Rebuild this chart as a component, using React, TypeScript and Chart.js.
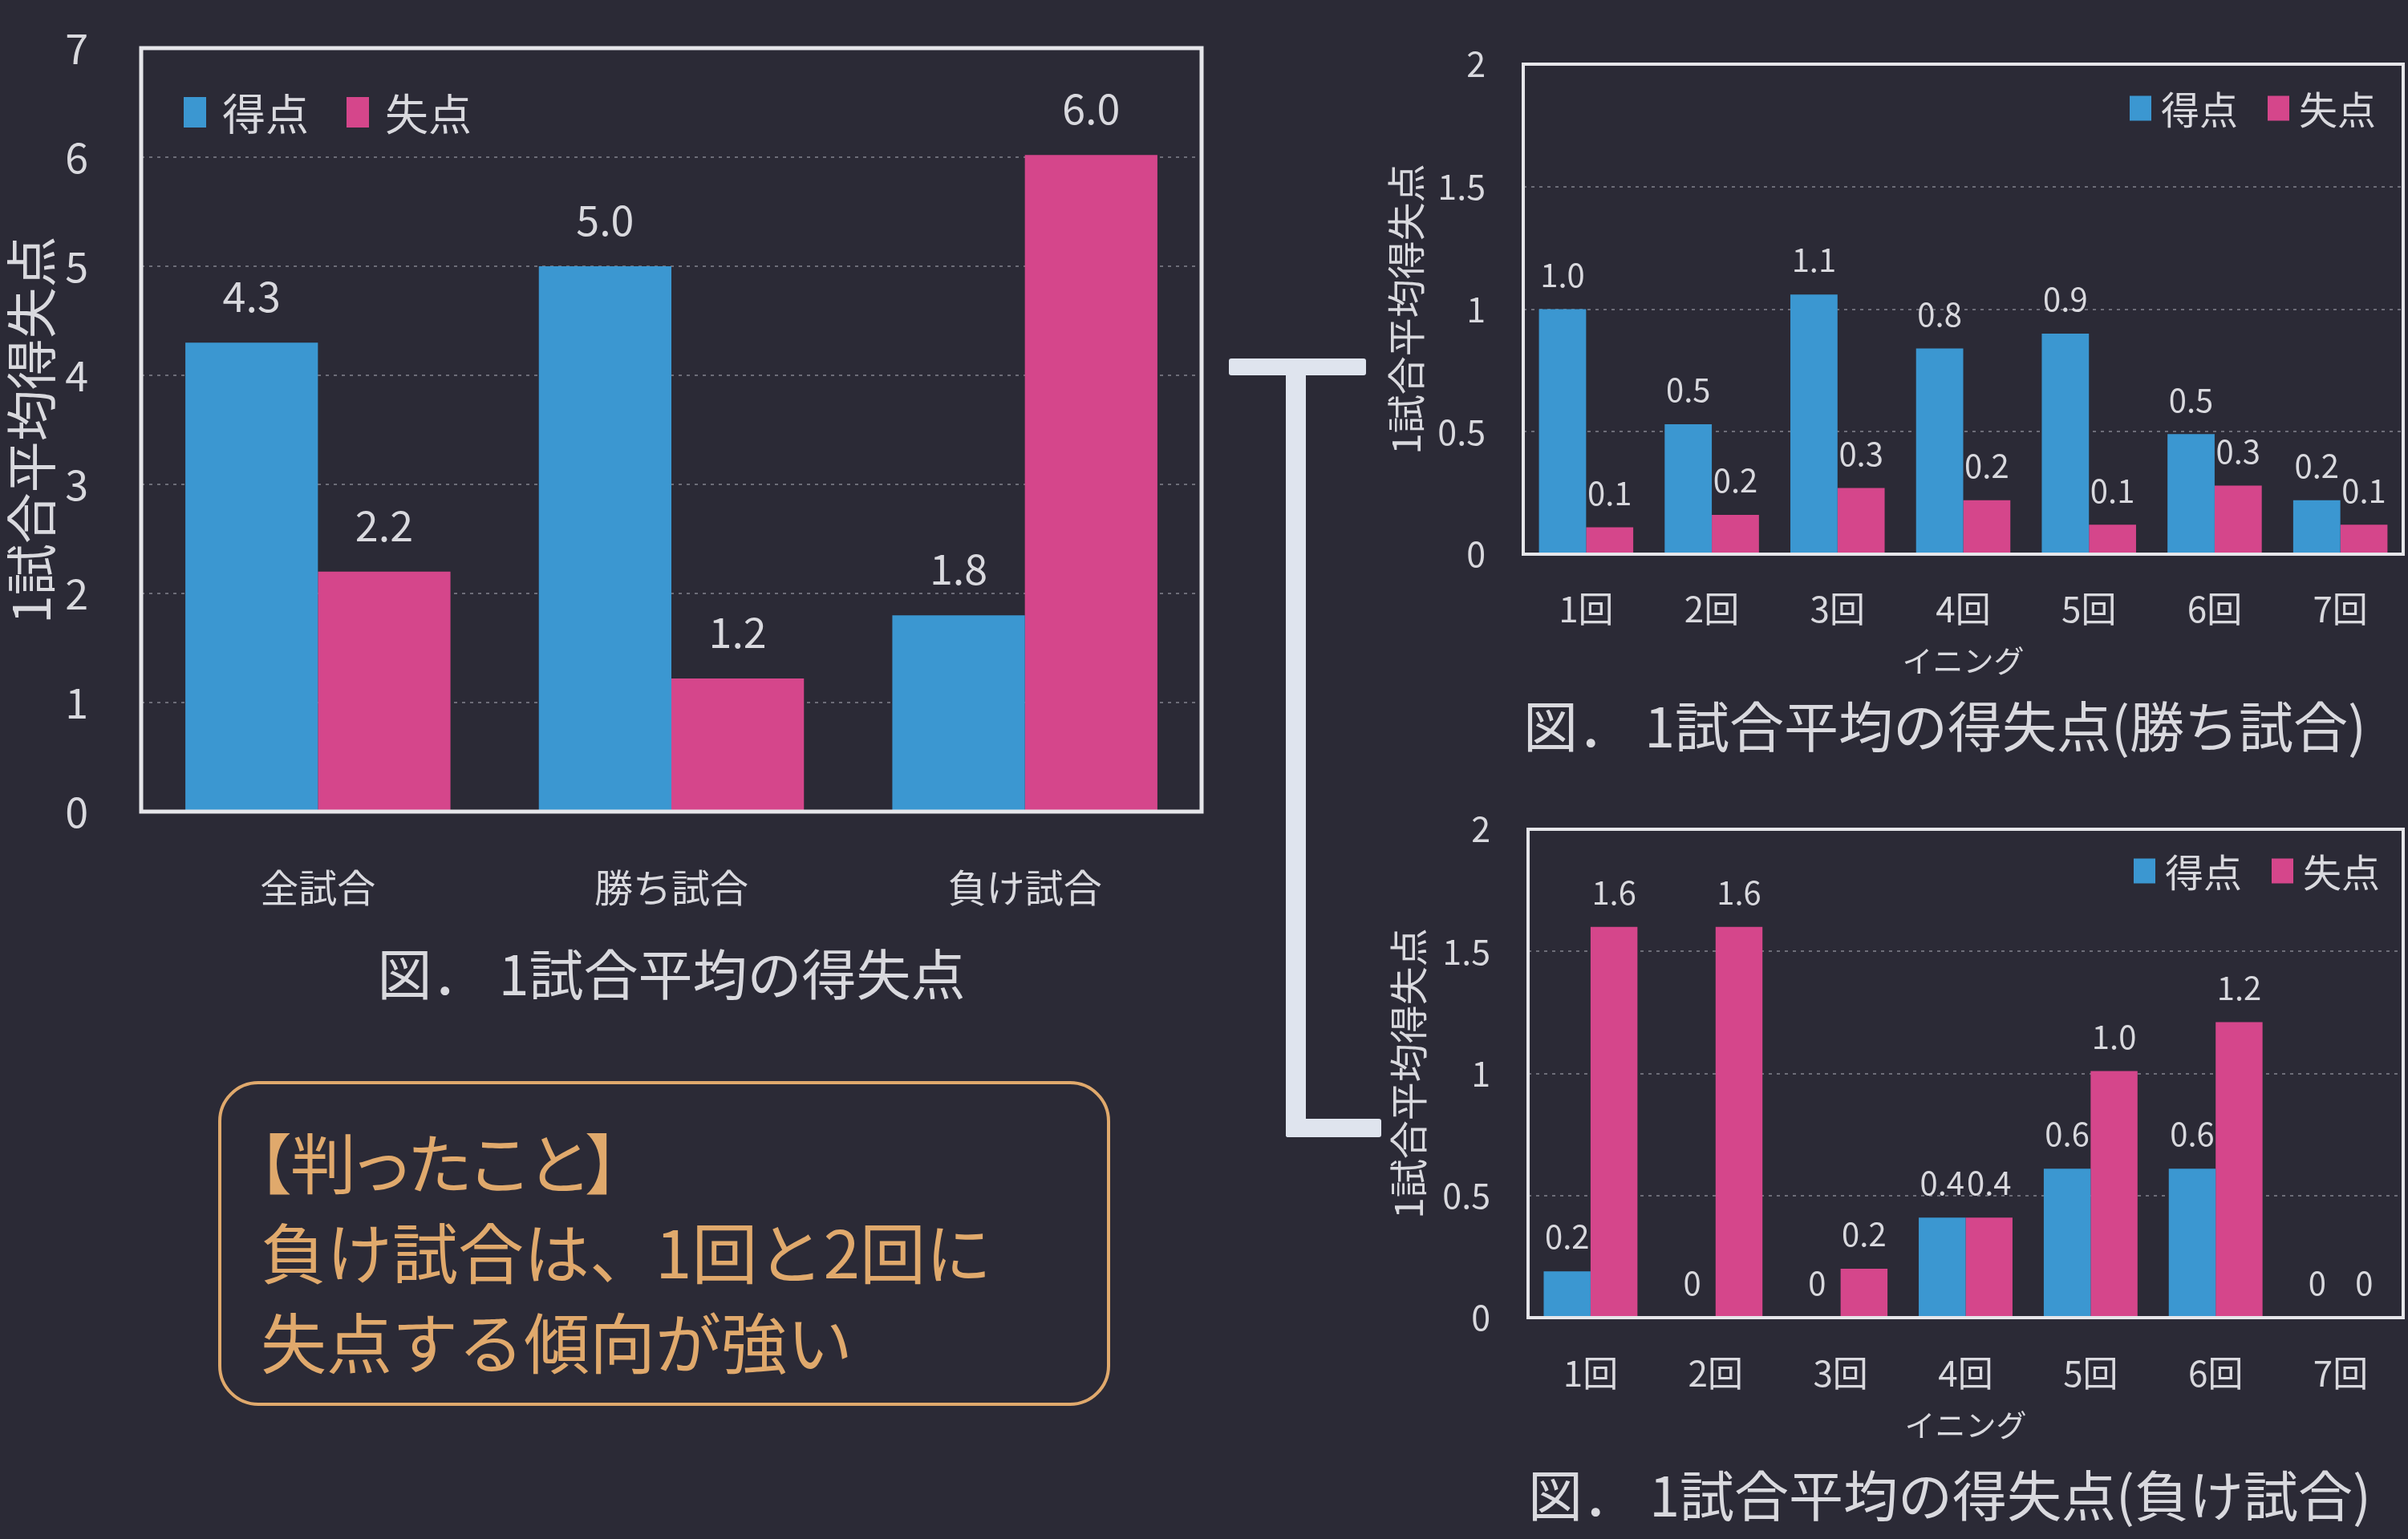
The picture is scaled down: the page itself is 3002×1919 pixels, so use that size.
import React, { useEffect, useRef } from 'react';
import { Chart, registerables } from 'chart.js';

Chart.register(...registerables);

// ---------------- data ----------------
const seriesNames = ['得点', '失点'];

const mainCategories = ['全試合', '勝ち試合', '負け試合'];
const mainScored = [4.3, 5.0, 1.8];
const mainAllowed = [2.2, 1.22, 6.02];
const mainYMax = 7;
const mainYStep = 1;

const innings = ['1回', '2回', '3回', '4回', '5回', '6回', '7回'];
const winScored = [1.0, 0.53, 1.06, 0.84, 0.9, 0.49, 0.22];
const winAllowed = [0.11, 0.16, 0.27, 0.22, 0.12, 0.28, 0.12];
const loseScored = [0.19, 0, 0, 0.41, 0.61, 0.61, 0];
const loseAllowed = [1.6, 1.6, 0.2, 0.41, 1.01, 1.21, 0];
const inningYMax = 2;
const inningYStep = 0.5;

const yAxisTitle = '1試合平均得失点';
const xAxisTitle = 'イニング';
const mainCaption = '図． 1試合平均の得失点';
const winCaption = '図． 1試合平均の得失点(勝ち試合)';
const loseCaption = '図． 1試合平均の得失点(負け試合)';

const noteLines = ['【判ったこと】', '負け試合は、1回と2回に', '失点する傾向が強い'];

// ---------------- styles ----------------
const FONT = "'Noto Sans CJK JP', 'Noto Sans', sans-serif";
const BG = '#2b2a36';
const BLUE = '#3b97d1';
const PINK = '#d5468b';
const TEXT = '#d9d9de';
const FRAME = '#e6e6ea';
const GRID = 'rgba(175,175,185,0.5)';
const NOTE = '#e0a96c';
const BRACKET = '#dfe4ee';

Chart.defaults.font.family = FONT;

const fmt = (v: number) => (v === 0 ? '0' : v.toFixed(1));

type Spec = {
  left: number; top: number; w: number; h: number;
  pad: { left: number; top: number; right: number; bottom: number };
  yAxisW: number; yTickFont: number; yTickPad: number; yTitleFont: number; yTitlePadTop: number;
  xAxisH: number; xTickFont: number; xTickPad: number; xTitle: string | null; xTitleFont: number;
  caption: string; captionFont: number; captionPadTop: number; captionAlign: 'center' | 'start'; captionFull: boolean;
  valueFont: number; valueOffset: number; frame: number;
  legend: { anchor: 'left' | 'right'; dx: number; dy: number; bw: number; bh: number; gap: number; itemGap: number; font: number };
};

const mainSpec: Spec = {
  left: 0, top: 0, w: 1640, h: 1290,
  pad: { left: 0, top: 60, right: 142, bottom: 26.2 },
  yAxisW: 176, yTickFont: 52, yTickPad: 66, yTitleFont: 64, yTitlePadTop: 0,
  xAxisH: 150, xTickFont: 48, xTickPad: 66.2, xTitle: null, xTitleFont: 40,
  caption: mainCaption, captionFont: 68, captionPadTop: 12.2, captionAlign: 'center', captionFull: false,
  valueFont: 52, valueOffset: 58, frame: 5,
  legend: { anchor: 'left', dx: 53, dy: 80, bw: 28, bh: 38, gap: 20, itemGap: 47, font: 54 },
};

const winSpec: Spec = {
  left: 1680, top: 0, w: 1322, h: 960,
  pad: { left: 0, top: 80, right: 6, bottom: 5.2 },
  yAxisW: 219, yTickFont: 43, yTickPad: 47, yTitleFont: 48, yTitlePadTop: 44.2,
  xAxisH: 155.8, xTickFont: 44, xTickPad: 41.6, xTitle: xAxisTitle, xTitleFont: 38,
  caption: winCaption, captionFont: 68, captionPadTop: 18.4, captionAlign: 'start', captionFull: false,
  valueFont: 40, valueOffset: 43, frame: 4,
  legend: { anchor: 'right', dx: 34, dy: 55, bw: 27, bh: 31, gap: 12, itemGap: 37, font: 48 },
};

const loseSpec: Spec = {
  left: 1680, top: 960, w: 1322, h: 959,
  pad: { left: 0, top: 74, right: 6, bottom: 5.2 },
  yAxisW: 225, yTickFont: 43, yTickPad: 47, yTitleFont: 48, yTitlePadTop: 47.2,
  xAxisH: 156.8, xTickFont: 44, xTickPad: 42.6, xTitle: xAxisTitle, xTitleFont: 38,
  caption: loseCaption, captionFont: 68, captionPadTop: 24.4, captionAlign: 'start', captionFull: false,
  valueFont: 40, valueOffset: 43, frame: 4,
  legend: { anchor: 'right', dx: 29, dy: 52, bw: 27, bh: 31, gap: 12, itemGap: 37, font: 48 },
};

function overlayPlugin(spec: Spec) {
  return {
    id: 'overlay',
    afterDatasetsDraw(chart: any) {
      const ctx = chart.ctx as CanvasRenderingContext2D;
      const a = chart.chartArea;
      ctx.save();
      // value labels
      ctx.font = `${spec.valueFont}px ${FONT}`;
      ctx.fillStyle = TEXT;
      ctx.textAlign = 'center';
      ctx.textBaseline = 'middle';
      chart.data.datasets.forEach((ds: any, i: number) => {
        const meta = chart.getDatasetMeta(i);
        meta.data.forEach((el: any, j: number) => {
          ctx.fillText(fmt(ds.data[j] as number), el.x, el.y - spec.valueOffset);
        });
      });
      // frame
      ctx.strokeStyle = FRAME;
      ctx.lineWidth = spec.frame;
      ctx.strokeRect(a.left, a.top, a.right - a.left, a.bottom - a.top);
      // legend inside plot
      const L = spec.legend;
      ctx.font = `${L.font}px ${FONT}`;
      ctx.textAlign = 'left';
      const widths = chart.data.datasets.map((d: any) => ctx.measureText(d.label).width);
      let total = 0;
      widths.forEach((w: number, i: number) => {
        total += L.bw + L.gap + w + (i > 0 ? L.itemGap : 0);
      });
      let x = L.anchor === 'left' ? a.left + L.dx : a.right - L.dx - total;
      const cy = a.top + L.dy;
      chart.data.datasets.forEach((d: any, i: number) => {
        ctx.fillStyle = d.backgroundColor;
        ctx.fillRect(x, cy - L.bh / 2, L.bw, L.bh);
        x += L.bw + L.gap;
        ctx.fillStyle = TEXT;
        ctx.fillText(d.label, x, cy + 2);
        x += widths[i] + L.itemGap;
      });
      ctx.restore();
    },
  };
}

function buildConfig(spec: Spec, labels: string[], scored: number[], allowed: number[], yMax: number, yStep: number): any {
  return {
    type: 'bar',
    data: {
      labels,
      datasets: [
        { label: seriesNames[0], data: scored, backgroundColor: BLUE, borderWidth: 0, categoryPercentage: 0.75, barPercentage: 1 },
        { label: seriesNames[1], data: allowed, backgroundColor: PINK, borderWidth: 0, categoryPercentage: 0.75, barPercentage: 1 },
      ],
    },
    options: {
      responsive: false,
      animation: false,
      devicePixelRatio: 1,
      layout: { padding: spec.pad },
      plugins: {
        legend: { display: false },
        tooltip: { enabled: false },
        title: {
          display: true,
          position: 'bottom',
          text: spec.caption,
          color: TEXT,
          align: spec.captionAlign,
          fullSize: spec.captionFull,
          font: { size: spec.captionFont, family: FONT, weight: 'normal' },
          padding: { top: spec.captionPadTop, bottom: 8 },
        },
      },
      scales: {
        x: {
          type: 'category',
          grid: { display: false, drawTicks: false },
          border: { display: false },
          ticks: { color: TEXT, font: { size: spec.xTickFont, family: FONT }, padding: spec.xTickPad, maxRotation: 0, autoSkip: false },
          title: spec.xTitle
            ? { display: true, text: spec.xTitle, color: TEXT, font: { size: spec.xTitleFont, family: FONT }, padding: { top: 0, bottom: 0 } }
            : { display: false },
          afterFit: (s: any) => {
            s.height = spec.xAxisH;
            s.paddingLeft = 0;
            s.paddingRight = 0;
          },
        },
        y: {
          min: 0,
          max: yMax,
          ticks: {
            stepSize: yStep,
            color: TEXT,
            font: { size: spec.yTickFont, family: FONT },
            padding: spec.yTickPad,
            callback: (v: any) => String(v),
          },
          grid: { color: GRID, lineWidth: 2, drawTicks: false },
          border: { display: false, dash: [4, 6] },
          title: { display: true, text: yAxisTitle, color: TEXT, font: { size: spec.yTitleFont, family: FONT }, padding: { top: spec.yTitlePadTop, bottom: 0 } },
          afterFit: (s: any) => {
            s.width = spec.yAxisW;
            s.paddingTop = 0;
            s.paddingBottom = 0;
          },
        },
      },
    },
    plugins: [overlayPlugin(spec)],
  };
}

function BarChart(props: { spec: Spec; labels: string[]; scored: number[]; allowed: number[]; yMax: number; yStep: number }) {
  const ref = useRef<HTMLCanvasElement>(null);
  const { spec } = props;
  useEffect(() => {
    const chart = new Chart(ref.current as HTMLCanvasElement, buildConfig(spec, props.labels, props.scored, props.allowed, props.yMax, props.yStep));
    return () => chart.destroy();
  }, []);
  return (
    <canvas
      ref={ref}
      width={spec.w}
      height={spec.h}
      style={{ position: 'absolute', left: spec.left, top: spec.top, width: spec.w, height: spec.h }}
    />
  );
}

export default function App() {
  const bar = (l: number, t: number, w: number, h: number) => (
    <div style={{ position: 'absolute', left: l, top: t, width: w, height: h, background: BRACKET, borderRadius: 3 }} />
  );
  return (
    <div style={{ position: 'absolute', left: 0, top: 0, width: 3002, height: 1919, background: BG, overflow: 'hidden', fontFamily: FONT }}>
      <BarChart spec={mainSpec} labels={mainCategories} scored={mainScored} allowed={mainAllowed} yMax={mainYMax} yStep={mainYStep} />
      <BarChart spec={winSpec} labels={innings} scored={winScored} allowed={winAllowed} yMax={inningYMax} yStep={inningYStep} />
      <BarChart spec={loseSpec} labels={innings} scored={loseScored} allowed={loseAllowed} yMax={inningYMax} yStep={inningYStep} />
      {bar(1532, 447, 171, 21)}
      {bar(1603, 447, 25, 971)}
      {bar(1603, 1395, 119, 23)}
      <div
        style={{
          position: 'absolute', left: 272, top: 1348, width: 1112, height: 405, boxSizing: 'border-box',
          border: `4px solid ${NOTE}`, borderRadius: 50, padding: '39px 0 0 49px',
          color: NOTE, fontSize: 82, lineHeight: '112px', whiteSpace: 'nowrap',
        }}
      >
        {noteLines.map((t, i) => (
          <div key={i} style={i === 0 ? { fontFeatureSettings: '"palt"', marginLeft: -4 } : undefined}>{t}</div>
        ))}
      </div>
    </div>
  );
}
